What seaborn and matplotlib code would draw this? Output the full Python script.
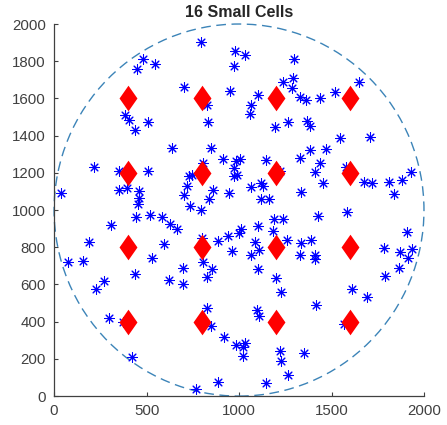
import numpy as np
import pandas as pd
import matplotlib
matplotlib.use('Agg')
import matplotlib.pyplot as plt
from matplotlib.patches import Circle
import seaborn as sns

# ========== dados ==========
cell_x = [400, 800, 1200, 1600, 400, 800, 1200, 1600,
          400, 800, 1200, 1600, 400, 800, 1200, 1600]
cell_y = [400, 400, 400, 400, 800, 800, 800, 800,
          1200, 1200, 1200, 1200, 1600, 1600, 1600, 1600]

user_x = [794, 977, 482, 544, 448, 974, 704, 950, 826, 385, 403, 506, 439, 831,
          637, 848, 911, 216, 351, 506, 806, 729, 743, 974, 974, 40, 353, 396,
          457, 457, 455, 716, 702, 857, 947, 839, 734, 794,
          443, 518, 585, 625, 662, 306, 189, 403, 596, 801, 887, 941, 998, 963,
          76, 155, 527, 806, 855, 695, 437, 826, 619, 695, 268, 227, 828, 849,
          297, 371, 920, 421, 887, 767,
          1031, 1296, 1238, 1290, 1289, 1647, 1103, 1067, 1060, 1330, 1361,
          1440, 1517, 1197, 1267, 1366, 1384, 1546, 1706, 1382, 1470, 1332,
          1436, 1413, 1577, 1454, 1335, 1145, 1220, 986, 1004, 990, 1067, 1121,
          1127, 1121, 1163, 1674, 1721, 1810, 1883, 1931, 1838, 1584, 1429,
          1190, 1238, 1103, 1181, 1013, 1085, 1109, 1067, 1262, 1334, 1388,
          1328, 1413, 1413, 1103, 1202, 1226, 1613, 1692, 1418, 1098, 1109,
          1567, 1784, 1872, 1937, 1913, 1910, 1865, 1791, 986, 1031, 1019,
          1022, 1220, 1229, 1350, 1265, 1148]
user_y = [1905, 1856, 1810, 1783, 1757, 1777, 1664, 1639, 1565, 1513, 1484, 1473,
          1432, 1473, 1331, 1331, 1276, 1234, 1208, 1209, 1251, 1182, 1186, 1224,
          1182, 1089, 1107, 1118, 1100, 1066, 1035, 1128, 1080, 1107, 1093, 1057,
          1021, 999,
          963, 976, 963, 927, 899, 918, 829, 809, 819, 848, 836, 863, 874, 778,
          721, 726, 742, 721, 685, 688, 658, 638, 622, 602, 616, 575, 476, 377,
          419, 399, 320, 212, 74, 40,
          1834, 1811, 1689, 1712, 1657, 1691, 1617, 1567, 1515, 1605, 1590,
          1603, 1637, 1446, 1472, 1479, 1452, 1385, 1391, 1321, 1326, 1281,
          1254, 1206, 1233, 1145, 1098, 1268, 1209, 1263, 1272, 1186, 1123, 1143,
          1128, 1057, 1057, 1150, 1147, 1150, 1164, 1204, 1084, 990, 967,
          954, 954, 913, 886, 899, 830, 787, 760, 841, 823, 841,
          760, 760, 737, 683, 634, 562, 575, 532, 491, 464, 431,
          387, 796, 775, 791, 742, 882, 688, 648, 275, 287, 266,
          217, 243, 190, 233, 113, 72]

df_users = pd.DataFrame({'x': user_x, 'y': user_y})
df_cells = pd.DataFrame({'x': cell_x, 'y': cell_y})

# ========== estilo ==========
sns.set_style('white')
plt.rcParams['font.family'] = ['Liberation Sans', 'DejaVu Sans']

fig = plt.figure(figsize=(4.47, 4.25), dpi=100)
ax = fig.add_axes([0.121, 0.068, 0.8275, 0.8755])

# círculo tracejado
circ = Circle((1000, 1000), 1000, fill=False, edgecolor='#3c84b8',
              linewidth=1.0, linestyle=(0, (7, 4)), clip_on=False, zorder=1)
ax.add_patch(circ)

sns.scatterplot(data=df_users, x='x', y='y', ax=ax, marker=(8, 2, 0),
                color='#0000ff', s=48, linewidth=0.75, zorder=2)

diamond = [(0, 1), (0.7, 0), (0, -1), (-0.7, 0), (0, 1)]
sns.scatterplot(data=df_cells, x='x', y='y', ax=ax, marker=diamond,
                color='#ff0000', s=340, linewidth=0, zorder=3)

ax.set_xlim(0, 2000)
ax.set_ylim(0, 2000)
ax.set_xticks([0, 500, 1000, 1500, 2000])
ax.set_yticks(range(0, 2001, 200))
ax.set_xlabel('')
ax.set_ylabel('')

for side in ['top', 'right']:
    ax.spines[side].set_visible(False)
for side in ['left', 'bottom']:
    ax.spines[side].set_color('#404040')
    ax.spines[side].set_linewidth(0.9)

ax.tick_params(direction='in', length=3, width=0.8, colors='#404040',
               labelsize=10.8, labelcolor='#404040', left=True, bottom=True,
               pad=6)

ax.set_title('16 Small Cells', fontsize=11.5, fontweight='bold', pad=5)

fig.savefig('out.png', dpi=100)
